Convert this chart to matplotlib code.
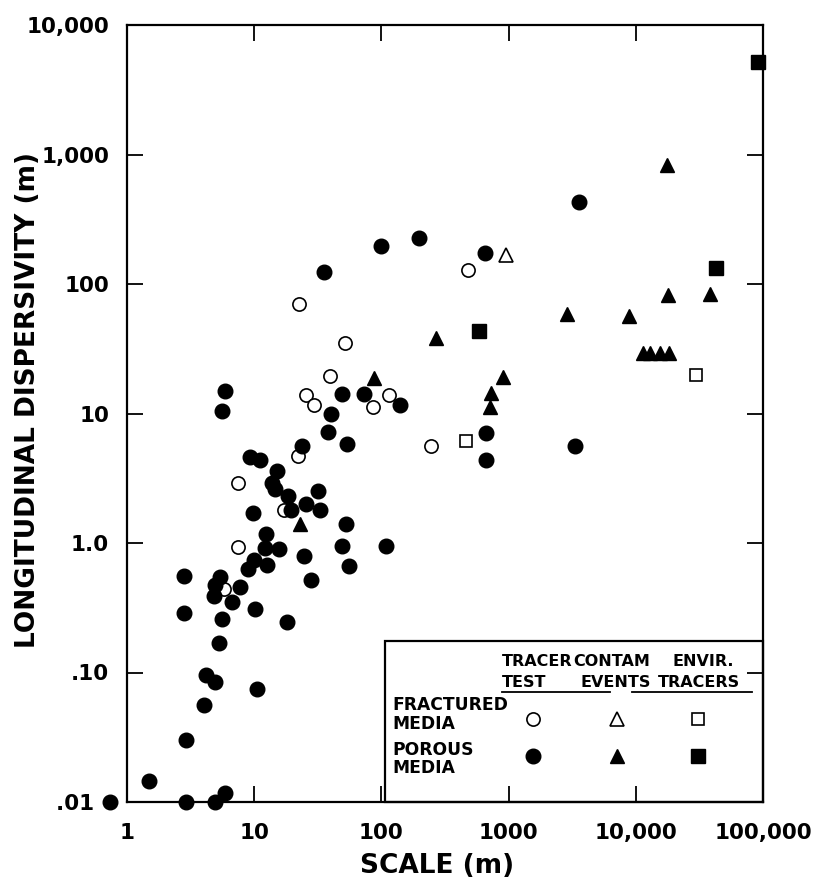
import matplotlib
matplotlib.use('Agg')
import matplotlib.pyplot as plt
from matplotlib.patches import Rectangle
from matplotlib.transforms import Bbox, BboxTransformTo, TransformedBbox

plt.rcParams['font.family'] = ['DejaVu Sans']
plt.rcParams['font.weight'] = 'bold'

# ---------------- data (scale m, longitudinal dispersivity m) ----------------
# Fractured media
frac_tracer_x = [22.4, 52, 39.4, 25.5, 29.7, 115, 86, 22.2, 7.4, 17, 7.4, 5.8, 477, 244]
frac_tracer_y = [70, 35, 19.6, 13.8, 11.6, 13.9, 11.2, 4.7, 2.9, 1.8, 0.93, 0.44, 128, 5.65]
frac_contam_x = [950]
frac_contam_y = [166]
frac_envir_x = [462, 29500]
frac_envir_y = [6.1, 19.8]

# Porous media
por_tracer_x = [5.55, 5.9, 40, 38.3, 54, 23.6, 9.3, 11.1, 15.2, 13.7, 14.6, 18.5, 32, 19.4,
                25.5, 33, 9.7, 53, 12.3, 12.2, 15.7, 48.7, 108, 10, 9.0, 12.5, 24.8, 56, 27.8,
                2.8, 5.4, 4.9, 4.8, 7.7, 6.7, 10.1, 2.8, 5.6, 18.2, 5.3, 4.2, 4.9, 10.6, 4.0,
                2.9, 1.49, 2.9, 4.9, 5.9, 0.73, 49, 73, 140, 35.6, 100, 196, 650, 3600, 664,
                661, 3330]
por_tracer_y = [10.5, 15.0, 9.9, 7.2, 5.8, 5.6, 4.6, 4.4, 3.6, 2.9, 2.6, 2.3, 2.5, 1.8,
                2.0, 1.8, 1.7, 1.4, 1.17, 0.91, 0.90, 0.94, 0.95, 0.74, 0.63, 0.68, 0.79, 0.67, 0.52,
                0.56, 0.55, 0.47, 0.39, 0.46, 0.35, 0.31, 0.29, 0.26, 0.245, 0.168, 0.096, 0.085, 0.074, 0.056,
                0.030, 0.0146, 0.01, 0.01, 0.0118, 0.01, 14.1, 14.1, 11.6, 124, 195, 228, 175, 428, 7.1,
                4.4, 5.65]
por_contam_x = [17700, 270, 2900, 8900, 11400, 13000, 15600, 18200, 17800, 38600, 87, 900, 727, 714, 23]
por_contam_y = [837, 38, 58.6, 57, 29.5, 29.5, 29.5, 29.5, 82, 83, 18.8, 19.2, 14.3, 11.2, 1.4]
por_envir_x = [92000, 43000, 580]
por_envir_y = [5200, 134, 43]

x_ticks = [1, 10, 100, 1000, 10000, 100000]
x_tick_labels = ['1', '10', '100', '1000', '10,000', '100,000']
y_ticks = [0.01, 0.1, 1, 10, 100, 1000, 10000]
y_tick_labels = ['.01  ', '.10', '1.0', '10', '100', '1,000', '10,000']

legend_cols = [('TRACER', 'TEST'), ('CONTAM', 'EVENTS'), ('ENVIR.', 'TRACERS')]
legend_rows = ['FRACTURED\nMEDIA', 'POROUS\nMEDIA']

# ---------------- figure ----------------
fig = plt.figure(figsize=(8.24, 8.84), dpi=100)
ax = fig.add_axes([127 / 824, 1 - 802 / 884, 636 / 824, 777 / 884])
ax.set_xscale('log')
ax.set_yscale('log')

open_kw = dict(linestyle='none', markerfacecolor='white', markeredgecolor='black',
               markeredgewidth=1.2, clip_on=False, zorder=3)
fill_kw = dict(linestyle='none', color='black', clip_on=False, zorder=3)

ax.plot(frac_tracer_x, frac_tracer_y, marker='o', markersize=9.5, **open_kw)
ax.plot(frac_contam_x, frac_contam_y, marker='^', markersize=10, **open_kw)
ax.plot(frac_envir_x, frac_envir_y, marker='s', markersize=9, **open_kw)
ax.plot(por_tracer_x, por_tracer_y, marker='o', markersize=10.5, **fill_kw)
ax.plot(por_contam_x, por_contam_y, marker='^', markersize=10.5, **fill_kw)
ax.plot(por_envir_x, por_envir_y, marker='s', markersize=10, **fill_kw)

ax.set_xlim(1, 100000)
ax.set_ylim(0.01, 10000)
ax.set_xticks(x_ticks, x_tick_labels)
ax.set_yticks(y_ticks, y_tick_labels)
ax.minorticks_off()
ax.tick_params(axis='both', which='major', direction='in', length=11.5, width=1.3,
               top=True, right=True, labelsize=15.5)
ax.tick_params(axis='x', pad=15)
ax.tick_params(axis='y', pad=13)
for lab in ax.get_xticklabels() + ax.get_yticklabels():
    lab.set_fontweight('bold')
for sp in ax.spines.values():
    sp.set_linewidth(1.6)

ax.set_xlabel('SCALE (m)', fontsize=19, fontweight='bold', va='center')
ax.xaxis.set_label_coords(0.487, -0.0824)
ax.set_ylabel('LONGITUDINAL DISPERSIVITY (m)', fontsize=19, fontweight='bold', va='center')
ax.yaxis.set_label_coords(-0.1557, 0.517)

# ---------------- custom legend box ----------------
bx0, by0, bw, bh = 0.405, 0.0, 0.595, 0.207
ax.add_patch(Rectangle((bx0, by0), bw, bh, transform=ax.transAxes, facecolor='white',
                       edgecolor='black', linewidth=1.6, zorder=1, clip_on=False))
lt = BboxTransformTo(TransformedBbox(Bbox.from_bounds(bx0, by0, bw, bh), ax.transAxes))

tfs = 11.5
col_x_top = [0.311, 0.499, 0.760]
col_x_bot = [0.311, 0.517, 0.723]
for (t1, t2), xa, xb in zip(legend_cols, col_x_top, col_x_bot):
    ax.text(xa, 0.876, t1, transform=lt, ha='left', va='center', fontsize=tfs, fontweight='bold')
    ax.text(xb, 0.745, t2, transform=lt, ha='left', va='center', fontsize=tfs, fontweight='bold')
ax.plot([0.311, 0.596], [0.683, 0.683], transform=lt, color='black', lw=1.3, clip_on=False)
ax.plot([0.654, 0.971], [0.683, 0.683], transform=lt, color='black', lw=1.3, clip_on=False)

ax.text(0.021, 0.545, legend_rows[0], transform=lt, ha='left', va='center', fontsize=tfs + 0.8,
        fontweight='bold', linespacing=1.05)
ax.text(0.021, 0.267, legend_rows[1], transform=lt, ha='left', va='center', fontsize=tfs + 0.8,
        fontweight='bold', linespacing=1.05)

key_x = [0.393, 0.615, 0.828]
key_markers = ['o', '^', 's']
open_sizes = [9.5, 10, 9]
fill_sizes = [10.5, 10.5, 10]
for kx, mk, so, sf in zip(key_x, key_markers, open_sizes, fill_sizes):
    ax.plot([kx], [0.516], marker=mk, markersize=so, transform=lt, **open_kw)
    ax.plot([kx], [0.286], marker=mk, markersize=sf, transform=lt, **fill_kw)

ax.set_xlim(1, 100000)
ax.set_ylim(0.01, 10000)

fig.savefig('out.png', dpi=100)
